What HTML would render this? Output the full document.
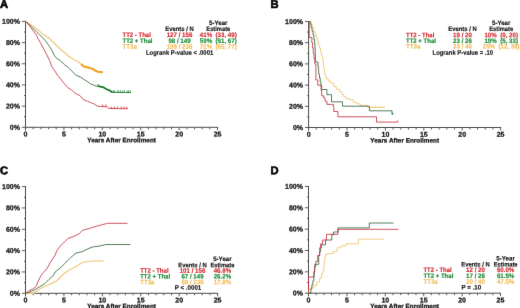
<!DOCTYPE html>
<html><head><meta charset="utf-8"><style>
html,body{margin:0;padding:0;background:#fff;width:520px;height:308px;overflow:hidden;}
svg{display:block;will-change:transform;}
text{font-family:"Liberation Sans", sans-serif;}
</style></head><body>
<svg width="520" height="308" viewBox="0 0 520 308" font-family='"Liberation Sans", sans-serif'>
<defs><filter id="soft" x="0" y="0" width="520" height="308" filterUnits="userSpaceOnUse" color-interpolation-filters="sRGB"><feConvolveMatrix order="3" kernelMatrix="0 1 0 1 12 1 0 1 0" edgeMode="duplicate" preserveAlpha="true"/></filter></defs>
<g filter="url(#soft)">
<rect width="520" height="308" fill="#fff"/>
<text x="-0.10" y="7.90" font-size="11.2" fill="#000" text-anchor="start" font-weight="bold" stroke="#000" stroke-width="0.6" transform="rotate(0.05 -0.10 7.90)">A</text>
<text x="270.60" y="7.90" font-size="11.2" fill="#000" text-anchor="start" font-weight="bold" stroke="#000" stroke-width="0.6" transform="rotate(0.05 270.60 7.90)">B</text>
<text x="-0.10" y="174.20" font-size="11.2" fill="#000" text-anchor="start" font-weight="bold" stroke="#000" stroke-width="0.6" transform="rotate(0.05 -0.10 174.20)">C</text>
<text x="270.60" y="174.20" font-size="11.2" fill="#000" text-anchor="start" font-weight="bold" stroke="#000" stroke-width="0.6" transform="rotate(0.05 270.60 174.20)">D</text>
<path d="M25.50,20.95 V130.50 M25.00,127.30 H218.10" stroke="#4a4a4a" stroke-width="1" fill="none"/>
<path d="M21.90,127.30 H25.50 M24.00,116.72 H25.50 M21.90,106.13 H25.50 M24.00,95.55 H25.50 M21.90,84.96 H25.50 M24.00,74.38 H25.50 M21.90,63.79 H25.50 M24.00,53.20 H25.50 M21.90,42.62 H25.50 M24.00,32.03 H25.50 M21.90,21.45 H25.50 M33.18,127.30 V129.30 M40.87,127.30 V129.30 M48.55,127.30 V129.30 M56.24,127.30 V129.30 M63.92,127.30 V130.30 M71.60,127.30 V129.30 M79.29,127.30 V129.30 M86.97,127.30 V129.30 M94.66,127.30 V129.30 M102.34,127.30 V130.30 M110.02,127.30 V129.30 M117.71,127.30 V129.30 M125.39,127.30 V129.30 M133.08,127.30 V129.30 M140.76,127.30 V130.30 M148.44,127.30 V129.30 M156.13,127.30 V129.30 M163.81,127.30 V129.30 M171.50,127.30 V129.30 M179.18,127.30 V130.30 M186.86,127.30 V129.30 M194.55,127.30 V129.30 M202.23,127.30 V129.30 M209.92,127.30 V129.30 M217.60,127.30 V130.30" stroke="#4a4a4a" stroke-width="0.9" fill="none"/>
<text x="19.90" y="129.70" font-size="7.0" fill="#111" text-anchor="end" font-weight="bold" stroke="#111" stroke-width="0.25" transform="rotate(0.05 19.90 129.70)">0%</text>
<text x="19.90" y="108.53" font-size="7.0" fill="#111" text-anchor="end" font-weight="bold" stroke="#111" stroke-width="0.25" transform="rotate(0.05 19.90 108.53)">20%</text>
<text x="19.90" y="87.36" font-size="7.0" fill="#111" text-anchor="end" font-weight="bold" stroke="#111" stroke-width="0.25" transform="rotate(0.05 19.90 87.36)">40%</text>
<text x="19.90" y="66.19" font-size="7.0" fill="#111" text-anchor="end" font-weight="bold" stroke="#111" stroke-width="0.25" transform="rotate(0.05 19.90 66.19)">60%</text>
<text x="19.90" y="45.02" font-size="7.0" fill="#111" text-anchor="end" font-weight="bold" stroke="#111" stroke-width="0.25" transform="rotate(0.05 19.90 45.02)">80%</text>
<text x="19.90" y="23.85" font-size="7.0" fill="#111" text-anchor="end" font-weight="bold" stroke="#111" stroke-width="0.25" transform="rotate(0.05 19.90 23.85)">100%</text>
<text x="25.50" y="136.60" font-size="7.0" fill="#111" text-anchor="middle" font-weight="bold" stroke="#111" stroke-width="0.25" transform="rotate(0.05 25.50 136.60)">0</text>
<text x="63.92" y="136.60" font-size="7.0" fill="#111" text-anchor="middle" font-weight="bold" stroke="#111" stroke-width="0.25" transform="rotate(0.05 63.92 136.60)">5</text>
<text x="102.34" y="136.60" font-size="7.0" fill="#111" text-anchor="middle" font-weight="bold" stroke="#111" stroke-width="0.25" transform="rotate(0.05 102.34 136.60)">10</text>
<text x="140.76" y="136.60" font-size="7.0" fill="#111" text-anchor="middle" font-weight="bold" stroke="#111" stroke-width="0.25" transform="rotate(0.05 140.76 136.60)">15</text>
<text x="179.18" y="136.60" font-size="7.0" fill="#111" text-anchor="middle" font-weight="bold" stroke="#111" stroke-width="0.25" transform="rotate(0.05 179.18 136.60)">20</text>
<text x="217.60" y="136.60" font-size="7.0" fill="#111" text-anchor="middle" font-weight="bold" stroke="#111" stroke-width="0.25" transform="rotate(0.05 217.60 136.60)">25</text>
<text x="121.60" y="142.30" font-size="6.4" fill="#111" text-anchor="middle" font-weight="bold" stroke="#111" stroke-width="0.25" transform="rotate(0.05 121.60 142.30)">Years After Enrollment</text>
<path d="M308.60,21.00 V130.70 M308.10,127.50 H501.10" stroke="#4a4a4a" stroke-width="1" fill="none"/>
<path d="M305.00,127.50 H308.60 M307.10,116.90 H308.60 M305.00,106.30 H308.60 M307.10,95.70 H308.60 M305.00,85.10 H308.60 M307.10,74.50 H308.60 M305.00,63.90 H308.60 M307.10,53.30 H308.60 M305.00,42.70 H308.60 M307.10,32.10 H308.60 M305.00,21.50 H308.60 M316.28,127.50 V129.50 M323.96,127.50 V129.50 M331.64,127.50 V129.50 M339.32,127.50 V129.50 M347.00,127.50 V130.50 M354.68,127.50 V129.50 M362.36,127.50 V129.50 M370.04,127.50 V129.50 M377.72,127.50 V129.50 M385.40,127.50 V130.50 M393.08,127.50 V129.50 M400.76,127.50 V129.50 M408.44,127.50 V129.50 M416.12,127.50 V129.50 M423.80,127.50 V130.50 M431.48,127.50 V129.50 M439.16,127.50 V129.50 M446.84,127.50 V129.50 M454.52,127.50 V129.50 M462.20,127.50 V130.50 M469.88,127.50 V129.50 M477.56,127.50 V129.50 M485.24,127.50 V129.50 M492.92,127.50 V129.50 M500.60,127.50 V130.50" stroke="#4a4a4a" stroke-width="0.9" fill="none"/>
<text x="303.00" y="129.90" font-size="7.0" fill="#111" text-anchor="end" font-weight="bold" stroke="#111" stroke-width="0.25" transform="rotate(0.05 303.00 129.90)">0%</text>
<text x="303.00" y="108.70" font-size="7.0" fill="#111" text-anchor="end" font-weight="bold" stroke="#111" stroke-width="0.25" transform="rotate(0.05 303.00 108.70)">20%</text>
<text x="303.00" y="87.50" font-size="7.0" fill="#111" text-anchor="end" font-weight="bold" stroke="#111" stroke-width="0.25" transform="rotate(0.05 303.00 87.50)">40%</text>
<text x="303.00" y="66.30" font-size="7.0" fill="#111" text-anchor="end" font-weight="bold" stroke="#111" stroke-width="0.25" transform="rotate(0.05 303.00 66.30)">60%</text>
<text x="303.00" y="45.10" font-size="7.0" fill="#111" text-anchor="end" font-weight="bold" stroke="#111" stroke-width="0.25" transform="rotate(0.05 303.00 45.10)">80%</text>
<text x="303.00" y="23.90" font-size="7.0" fill="#111" text-anchor="end" font-weight="bold" stroke="#111" stroke-width="0.25" transform="rotate(0.05 303.00 23.90)">100%</text>
<text x="308.60" y="136.80" font-size="7.0" fill="#111" text-anchor="middle" font-weight="bold" stroke="#111" stroke-width="0.25" transform="rotate(0.05 308.60 136.80)">0</text>
<text x="347.00" y="136.80" font-size="7.0" fill="#111" text-anchor="middle" font-weight="bold" stroke="#111" stroke-width="0.25" transform="rotate(0.05 347.00 136.80)">5</text>
<text x="385.40" y="136.80" font-size="7.0" fill="#111" text-anchor="middle" font-weight="bold" stroke="#111" stroke-width="0.25" transform="rotate(0.05 385.40 136.80)">10</text>
<text x="423.80" y="136.80" font-size="7.0" fill="#111" text-anchor="middle" font-weight="bold" stroke="#111" stroke-width="0.25" transform="rotate(0.05 423.80 136.80)">15</text>
<text x="462.20" y="136.80" font-size="7.0" fill="#111" text-anchor="middle" font-weight="bold" stroke="#111" stroke-width="0.25" transform="rotate(0.05 462.20 136.80)">20</text>
<text x="500.60" y="136.80" font-size="7.0" fill="#111" text-anchor="middle" font-weight="bold" stroke="#111" stroke-width="0.25" transform="rotate(0.05 500.60 136.80)">25</text>
<text x="404.70" y="142.50" font-size="6.4" fill="#111" text-anchor="middle" font-weight="bold" stroke="#111" stroke-width="0.25" transform="rotate(0.05 404.70 142.50)">Years After Enrollment</text>
<path d="M25.50,186.10 V296.50 M25.00,293.30 H218.10" stroke="#4a4a4a" stroke-width="1" fill="none"/>
<path d="M21.90,293.30 H25.50 M24.00,282.63 H25.50 M21.90,271.96 H25.50 M24.00,261.29 H25.50 M21.90,250.62 H25.50 M24.00,239.95 H25.50 M21.90,229.28 H25.50 M24.00,218.61 H25.50 M21.90,207.94 H25.50 M24.00,197.27 H25.50 M21.90,186.60 H25.50 M33.18,293.30 V295.30 M40.87,293.30 V295.30 M48.55,293.30 V295.30 M56.24,293.30 V295.30 M63.92,293.30 V296.30 M71.60,293.30 V295.30 M79.29,293.30 V295.30 M86.97,293.30 V295.30 M94.66,293.30 V295.30 M102.34,293.30 V296.30 M110.02,293.30 V295.30 M117.71,293.30 V295.30 M125.39,293.30 V295.30 M133.08,293.30 V295.30 M140.76,293.30 V296.30 M148.44,293.30 V295.30 M156.13,293.30 V295.30 M163.81,293.30 V295.30 M171.50,293.30 V295.30 M179.18,293.30 V296.30 M186.86,293.30 V295.30 M194.55,293.30 V295.30 M202.23,293.30 V295.30 M209.92,293.30 V295.30 M217.60,293.30 V296.30" stroke="#4a4a4a" stroke-width="0.9" fill="none"/>
<text x="19.90" y="295.70" font-size="7.0" fill="#111" text-anchor="end" font-weight="bold" stroke="#111" stroke-width="0.25" transform="rotate(0.05 19.90 295.70)">0%</text>
<text x="19.90" y="274.36" font-size="7.0" fill="#111" text-anchor="end" font-weight="bold" stroke="#111" stroke-width="0.25" transform="rotate(0.05 19.90 274.36)">20%</text>
<text x="19.90" y="253.02" font-size="7.0" fill="#111" text-anchor="end" font-weight="bold" stroke="#111" stroke-width="0.25" transform="rotate(0.05 19.90 253.02)">40%</text>
<text x="19.90" y="231.68" font-size="7.0" fill="#111" text-anchor="end" font-weight="bold" stroke="#111" stroke-width="0.25" transform="rotate(0.05 19.90 231.68)">60%</text>
<text x="19.90" y="210.34" font-size="7.0" fill="#111" text-anchor="end" font-weight="bold" stroke="#111" stroke-width="0.25" transform="rotate(0.05 19.90 210.34)">80%</text>
<text x="19.90" y="189.00" font-size="7.0" fill="#111" text-anchor="end" font-weight="bold" stroke="#111" stroke-width="0.25" transform="rotate(0.05 19.90 189.00)">100%</text>
<text x="25.50" y="302.60" font-size="7.0" fill="#111" text-anchor="middle" font-weight="bold" stroke="#111" stroke-width="0.25" transform="rotate(0.05 25.50 302.60)">0</text>
<text x="63.92" y="302.60" font-size="7.0" fill="#111" text-anchor="middle" font-weight="bold" stroke="#111" stroke-width="0.25" transform="rotate(0.05 63.92 302.60)">5</text>
<text x="102.34" y="302.60" font-size="7.0" fill="#111" text-anchor="middle" font-weight="bold" stroke="#111" stroke-width="0.25" transform="rotate(0.05 102.34 302.60)">10</text>
<text x="140.76" y="302.60" font-size="7.0" fill="#111" text-anchor="middle" font-weight="bold" stroke="#111" stroke-width="0.25" transform="rotate(0.05 140.76 302.60)">15</text>
<text x="179.18" y="302.60" font-size="7.0" fill="#111" text-anchor="middle" font-weight="bold" stroke="#111" stroke-width="0.25" transform="rotate(0.05 179.18 302.60)">20</text>
<text x="217.60" y="302.60" font-size="7.0" fill="#111" text-anchor="middle" font-weight="bold" stroke="#111" stroke-width="0.25" transform="rotate(0.05 217.60 302.60)">25</text>
<text x="121.60" y="308.30" font-size="6.4" fill="#111" text-anchor="middle" font-weight="bold" stroke="#111" stroke-width="0.25" transform="rotate(0.05 121.60 308.30)">Years After Enrollment</text>
<path d="M308.50,185.95 V296.40 M308.00,293.20 H501.00" stroke="#4a4a4a" stroke-width="1" fill="none"/>
<path d="M304.90,293.20 H308.50 M307.00,282.52 H308.50 M304.90,271.85 H308.50 M307.00,261.18 H308.50 M304.90,250.50 H308.50 M307.00,239.82 H308.50 M304.90,229.15 H308.50 M307.00,218.47 H308.50 M304.90,207.80 H308.50 M307.00,197.12 H308.50 M304.90,186.45 H308.50 M316.18,293.20 V295.20 M323.86,293.20 V295.20 M331.54,293.20 V295.20 M339.22,293.20 V295.20 M346.90,293.20 V296.20 M354.58,293.20 V295.20 M362.26,293.20 V295.20 M369.94,293.20 V295.20 M377.62,293.20 V295.20 M385.30,293.20 V296.20 M392.98,293.20 V295.20 M400.66,293.20 V295.20 M408.34,293.20 V295.20 M416.02,293.20 V295.20 M423.70,293.20 V296.20 M431.38,293.20 V295.20 M439.06,293.20 V295.20 M446.74,293.20 V295.20 M454.42,293.20 V295.20 M462.10,293.20 V296.20 M469.78,293.20 V295.20 M477.46,293.20 V295.20 M485.14,293.20 V295.20 M492.82,293.20 V295.20 M500.50,293.20 V296.20" stroke="#4a4a4a" stroke-width="0.9" fill="none"/>
<text x="302.90" y="295.60" font-size="7.0" fill="#111" text-anchor="end" font-weight="bold" stroke="#111" stroke-width="0.25" transform="rotate(0.05 302.90 295.60)">0%</text>
<text x="302.90" y="274.25" font-size="7.0" fill="#111" text-anchor="end" font-weight="bold" stroke="#111" stroke-width="0.25" transform="rotate(0.05 302.90 274.25)">20%</text>
<text x="302.90" y="252.90" font-size="7.0" fill="#111" text-anchor="end" font-weight="bold" stroke="#111" stroke-width="0.25" transform="rotate(0.05 302.90 252.90)">40%</text>
<text x="302.90" y="231.55" font-size="7.0" fill="#111" text-anchor="end" font-weight="bold" stroke="#111" stroke-width="0.25" transform="rotate(0.05 302.90 231.55)">60%</text>
<text x="302.90" y="210.20" font-size="7.0" fill="#111" text-anchor="end" font-weight="bold" stroke="#111" stroke-width="0.25" transform="rotate(0.05 302.90 210.20)">80%</text>
<text x="302.90" y="188.85" font-size="7.0" fill="#111" text-anchor="end" font-weight="bold" stroke="#111" stroke-width="0.25" transform="rotate(0.05 302.90 188.85)">100%</text>
<text x="308.50" y="302.50" font-size="7.0" fill="#111" text-anchor="middle" font-weight="bold" stroke="#111" stroke-width="0.25" transform="rotate(0.05 308.50 302.50)">0</text>
<text x="346.90" y="302.50" font-size="7.0" fill="#111" text-anchor="middle" font-weight="bold" stroke="#111" stroke-width="0.25" transform="rotate(0.05 346.90 302.50)">5</text>
<text x="385.30" y="302.50" font-size="7.0" fill="#111" text-anchor="middle" font-weight="bold" stroke="#111" stroke-width="0.25" transform="rotate(0.05 385.30 302.50)">10</text>
<text x="423.70" y="302.50" font-size="7.0" fill="#111" text-anchor="middle" font-weight="bold" stroke="#111" stroke-width="0.25" transform="rotate(0.05 423.70 302.50)">15</text>
<text x="462.10" y="302.50" font-size="7.0" fill="#111" text-anchor="middle" font-weight="bold" stroke="#111" stroke-width="0.25" transform="rotate(0.05 462.10 302.50)">20</text>
<text x="500.50" y="302.50" font-size="7.0" fill="#111" text-anchor="middle" font-weight="bold" stroke="#111" stroke-width="0.25" transform="rotate(0.05 500.50 302.50)">25</text>
<text x="404.60" y="308.20" font-size="6.4" fill="#111" text-anchor="middle" font-weight="bold" stroke="#111" stroke-width="0.25" transform="rotate(0.05 404.60 308.20)">Years After Enrollment</text>
<polyline points="25.50,21.40 33.70,26.80 38.50,30.50 43.50,34.60 48.30,37.50 53.20,42.30 57.30,46.20 60.50,49.50 64.40,52.50 69.20,56.80 74.10,59.70 79.00,62.20 81.20,64.30 83.80,66.40 89.00,67.70 92.90,69.00 95.50,70.80 98.00,71.80 102.80,72.20" stroke="#f0c878" stroke-width="1.2" fill="none" stroke-linejoin="round"/>
<polyline points="81.20,64.30 83.80,66.40 89.00,67.70 92.90,69.00 95.50,70.80 98.00,71.80 102.80,72.20" stroke="#f0a428" stroke-width="2.2" fill="none" stroke-linejoin="round"/>
<polyline points="25.50,21.40 30.20,25.50 34.10,29.40 38.00,33.20 41.90,37.10 45.00,40.30 47.40,43.40 49.50,46.50 51.70,50.00 54.60,55.80 56.60,58.30 60.50,60.70 64.40,64.60 68.30,67.50 72.20,71.40 76.10,75.30 80.90,77.30 83.90,79.40 87.80,81.80 90.50,83.80 93.10,84.80 95.70,86.10 98.00,86.10 102.90,87.10 106.10,89.00 109.40,90.30 112.50,92.50 131.00,92.60" stroke="#2a6030" stroke-width="0.8" fill="none" stroke-linejoin="round"/>
<polyline points="98.00,86.10 102.90,87.10 106.10,89.00 109.40,90.30 112.50,92.50" stroke="#1e7a2a" stroke-width="1.8" fill="none" stroke-linejoin="round"/>
<path d="M98.00,86.10 v-2.2" stroke="#1a8a35" stroke-width="0.8" fill="none"/>
<path d="M113.50,92.60 v-2.2 M114.70,92.60 v-2.2 M117.40,92.60 v-2.2 M118.80,92.60 v-2.2 M120.50,92.60 v-2.2 M122.70,92.60 v-2.2 M124.20,92.60 v-2.2 M127.10,92.60 v-2.2 M128.50,92.60 v-2.2 M130.20,92.60 v-2.2" stroke="#1a8a35" stroke-width="0.8" fill="none"/>
<polyline points="25.50,21.40 26.00,21.80 30.20,26.60 34.10,32.10 36.50,35.20 38.00,38.70 40.80,43.40 42.00,46.00 44.40,50.00 46.80,54.90 49.70,60.70 51.70,66.60 54.60,70.50 57.50,75.30 61.00,79.20 63.60,82.80 67.80,87.60 71.50,90.00 75.30,93.30 80.00,95.60 82.80,99.30 87.50,101.30 91.60,103.00 94.50,104.20 97.50,106.20 100.40,106.50 105.90,106.70 107.40,107.10 109.10,108.50 127.80,108.80" stroke="#c42838" stroke-width="0.8" fill="none" stroke-linejoin="round"/>
<path d="M102.70,106.70 v-2.2 M105.90,106.70 v-2.2" stroke="#d42830" stroke-width="0.8" fill="none"/>
<path d="M111.20,108.80 v-2.2 M114.40,108.80 v-2.2 M117.30,108.80 v-2.2 M121.20,108.80 v-2.2 M124.10,108.80 v-2.2 M126.80,108.80 v-2.2" stroke="#d42830" stroke-width="0.8" fill="none"/>
<polyline points="308.60,21.50 311.20,21.50 311.20,23.90 312.10,23.90 312.10,26.32 313.00,26.32 313.00,28.75 313.90,28.75 313.90,31.18 314.80,31.18 314.80,33.60 315.77,33.60 315.77,36.20 316.73,36.20 316.73,38.80 317.70,38.80 317.70,41.40 318.33,41.40 318.33,43.67 318.97,43.67 318.97,45.93 319.60,45.93 319.60,48.20 320.50,48.20 320.50,51.00 321.12,51.00 321.12,53.62 321.75,53.62 321.75,56.25 322.38,56.25 322.38,58.88 323.00,58.88 323.00,61.50 323.34,61.50 323.34,64.14 323.68,64.14 323.68,66.78 324.02,66.78 324.02,69.42 324.36,69.42 324.36,72.06 324.70,72.06 324.70,74.70 325.55,74.70 325.55,76.85 326.40,76.85 326.40,79.00 328.45,79.00 328.45,81.10 330.50,81.10 330.50,83.20 333.80,83.20 333.80,86.50 336.30,86.50 336.30,89.20 339.60,89.20 339.60,91.80 342.00,91.80 342.00,94.50 343.70,94.50 343.70,96.50 345.40,96.50 345.40,98.50 349.50,98.50 349.50,99.80 353.70,99.80 353.70,102.50 357.00,102.50 357.00,103.90 360.30,103.90 360.30,105.50 367.70,105.50 367.70,107.50 383.50,107.50" stroke="#f0c878" stroke-width="0.9" fill="none" stroke-linejoin="round"/>
<polyline points="308.60,21.50 309.90,21.50 310.20,21.50 310.20,24.00 311.13,24.00 311.13,27.67 312.07,27.67 312.07,31.33 313.00,31.33 313.00,35.00 313.80,35.00 313.80,39.50 314.60,39.50 314.60,44.00 314.90,44.00 314.90,48.00 315.20,48.00 315.20,52.00 315.30,52.00 315.30,57.00 315.40,57.00 315.40,62.00 317.70,62.00 318.03,62.00 318.03,66.00 318.37,66.00 318.37,70.00 318.70,70.00 318.70,74.00 319.45,74.00 319.45,77.88 320.20,77.88 320.20,81.75 320.95,81.75 320.95,85.62 321.70,85.62 321.70,89.50 326.90,89.50 326.90,94.70 331.50,94.70 331.50,101.80 342.50,101.80 342.50,106.20 369.40,106.20 369.40,110.80 392.00,110.80 392.00,113.50" stroke="#2a6030" stroke-width="0.8" fill="none" stroke-linejoin="round"/>
<polyline points="308.60,21.50 309.20,21.50 309.20,37.40 311.80,37.40 311.80,42.70 312.55,42.70 312.55,48.03 313.30,48.03 313.30,53.35 314.05,53.35 314.05,58.67 314.80,58.67 314.80,64.00 315.90,64.00 315.90,69.30 315.90,79.90 317.80,79.90 317.80,85.20 320.40,85.20 321.05,85.20 321.05,90.50 321.70,90.50 321.70,95.80 323.70,95.80 323.70,97.90 325.00,97.90 325.00,101.20 326.90,101.20 326.90,104.40 331.50,104.40 333.40,104.40 333.40,106.20 333.80,106.20 333.80,111.50 337.90,111.50 337.90,116.80 376.50,116.80 376.50,122.10 397.90,122.10 397.90,120.50" stroke="#c42838" stroke-width="0.8" fill="none" stroke-linejoin="round"/>
<path d="M370.00,108.00 v-1.8 M372.80,108.00 v-1.8 M375.60,108.00 v-1.8 M378.40,108.00 v-1.8 M381.20,108.00 v-1.8 M384.00,108.00 v-1.8" stroke="#f2bc58" stroke-width="0.7" fill="none"/>
<circle cx="392.4" cy="113.8" r="1.0" fill="#1a8a35"/>
<polyline points="25.50,293.30 33.70,293.30 37.00,290.70 43.50,286.80 50.00,284.20 56.50,281.00 64.00,273.80 68.80,270.20 75.80,266.70 81.50,263.00 86.10,261.50 93.10,261.00 103.40,260.80" stroke="#f0c878" stroke-width="1.2" fill="none" stroke-linejoin="round"/>
<polyline points="25.50,293.30 27.90,292.70 34.40,290.00 39.60,286.80 44.80,283.60 48.70,279.70 52.60,276.40 55.20,271.90 57.80,269.90 61.70,266.70 64.60,263.70 71.10,257.20 76.00,253.10 82.50,251.50 89.00,248.30 93.80,246.70 98.80,246.20 106.10,244.50 130.40,244.50" stroke="#2a6030" stroke-width="0.8" fill="none" stroke-linejoin="round"/>
<polyline points="25.50,293.30 29.20,290.70 33.10,288.80 36.30,286.20 38.30,281.00 40.90,275.80 43.50,272.50 47.40,268.00 50.00,262.80 52.60,258.90 55.20,255.00 56.80,250.70 60.00,246.50 63.00,243.40 67.90,238.50 74.40,236.10 79.20,233.70 82.50,230.40 90.60,228.00 98.70,225.60 107.60,223.30 127.50,223.30" stroke="#c42838" stroke-width="0.8" fill="none" stroke-linejoin="round"/>
<polyline points="308.50,293.20 308.50,289.70 310.90,289.70 310.90,287.70 313.80,287.70 313.80,285.80 316.70,285.80 316.70,281.90 319.70,281.90 319.70,278.00 321.60,278.00 321.60,274.00 322.60,274.00 322.60,271.60 323.60,271.60 323.60,269.20 323.83,269.20 323.83,266.75 324.05,266.75 324.05,264.30 324.27,264.30 324.27,261.85 324.50,261.85 324.50,259.40 325.00,259.40 325.00,256.95 325.50,256.95 325.50,254.50 327.50,254.50 327.50,253.60 333.30,253.60 333.30,251.60 337.20,251.60 337.20,247.70 341.10,247.70 341.10,245.80 346.00,245.80 346.00,243.80 358.60,243.80 358.60,240.00 358.60,239.20 384.00,239.20" stroke="#f0c878" stroke-width="0.9" fill="none" stroke-linejoin="round"/>
<polyline points="308.50,293.20 310.90,293.20 310.90,288.70 311.87,288.70 311.87,284.80 312.83,284.80 312.83,280.90 313.80,280.90 313.80,277.00 314.13,277.00 314.13,272.77 314.47,272.77 314.47,268.53 314.80,268.53 314.80,264.30 318.70,264.30 318.70,255.50 319.65,255.50 319.65,251.60 320.60,251.60 320.60,247.70 321.60,247.70 321.60,244.80 325.50,244.80 325.50,240.00 331.80,240.00 331.80,234.60 333.60,234.60 333.60,232.00 338.00,232.00 338.00,227.90 369.30,227.90 369.30,223.00 393.50,223.00" stroke="#2a6030" stroke-width="0.8" fill="none" stroke-linejoin="round"/>
<polyline points="308.50,293.20 308.50,277.00 312.80,277.00 313.80,277.00 313.80,271.80 314.80,271.80 314.80,266.60 315.80,266.60 315.80,261.40 317.70,261.40 317.70,255.50 319.70,255.50 319.70,247.70 320.60,247.70 320.60,243.80 322.60,243.80 322.60,240.00 326.40,240.00 326.40,234.30 338.00,234.30 338.00,229.30 398.30,229.30" stroke="#c42838" stroke-width="0.8" fill="none" stroke-linejoin="round"/>
<text x="218.30" y="25.10" font-size="6.6" fill="#111" text-anchor="middle" font-weight="bold" textLength="18.46" lengthAdjust="spacingAndGlyphs" stroke="#111" stroke-width="0.15" transform="rotate(0.05 218.30 25.10)">5-Year</text>
<text x="179.50" y="31.00" font-size="6.6" fill="#111" text-anchor="middle" font-weight="bold" textLength="28.37" lengthAdjust="spacingAndGlyphs" stroke="#111" stroke-width="0.15" transform="rotate(0.05 179.50 31.00)">Events / N</text>
<text x="218.30" y="31.00" font-size="6.6" fill="#111" text-anchor="middle" font-weight="bold" textLength="23.92" lengthAdjust="spacingAndGlyphs" stroke="#111" stroke-width="0.15" transform="rotate(0.05 218.30 31.00)">Estimate</text>
<text x="122.50" y="37.10" font-size="6.6" fill="#d42830" text-anchor="start" font-weight="bold" textLength="28.36" lengthAdjust="spacingAndGlyphs" stroke="#d42830" stroke-width="0.15" transform="rotate(0.05 122.50 37.10)">TT2 - Thal</text>
<text x="179.50" y="37.10" font-size="6.6" fill="#d42830" text-anchor="middle" font-weight="bold" textLength="25.65" lengthAdjust="spacingAndGlyphs" stroke="#d42830" stroke-width="0.15" transform="rotate(0.05 179.50 37.10)">127 / 156</text>
<text x="218.30" y="37.10" font-size="6.6" fill="#d42830" text-anchor="middle" font-weight="bold" textLength="36.92" lengthAdjust="spacingAndGlyphs" stroke="#d42830" stroke-width="0.15" transform="rotate(0.05 218.30 37.10)">41%&#160;&#160;(33, 49)</text>
<text x="122.50" y="42.90" font-size="6.6" fill="#1a8a35" text-anchor="start" font-weight="bold" textLength="29.91" lengthAdjust="spacingAndGlyphs" stroke="#1a8a35" stroke-width="0.15" transform="rotate(0.05 122.50 42.90)">TT2 + Thal</text>
<text x="179.50" y="42.90" font-size="6.6" fill="#1a8a35" text-anchor="middle" font-weight="bold" textLength="22.23" lengthAdjust="spacingAndGlyphs" stroke="#1a8a35" stroke-width="0.15" transform="rotate(0.05 179.50 42.90)">98 / 149</text>
<text x="218.30" y="42.90" font-size="6.6" fill="#1a8a35" text-anchor="middle" font-weight="bold" textLength="36.92" lengthAdjust="spacingAndGlyphs" stroke="#1a8a35" stroke-width="0.15" transform="rotate(0.05 218.30 42.90)">59%&#160;&#160;(51, 67)</text>
<text x="122.50" y="48.80" font-size="6.6" fill="#f2bc58" text-anchor="start" font-weight="bold" textLength="14.35" lengthAdjust="spacingAndGlyphs" stroke="#f2bc58" stroke-width="0.15" transform="rotate(0.05 122.50 48.80)">TT3a</text>
<text x="179.50" y="48.80" font-size="6.6" fill="#f2bc58" text-anchor="middle" font-weight="bold" textLength="25.65" lengthAdjust="spacingAndGlyphs" stroke="#f2bc58" stroke-width="0.15" transform="rotate(0.05 179.50 48.80)">109 / 236</text>
<text x="218.30" y="48.80" font-size="6.6" fill="#f2bc58" text-anchor="middle" font-weight="bold" textLength="36.92" lengthAdjust="spacingAndGlyphs" stroke="#f2bc58" stroke-width="0.15" transform="rotate(0.05 218.30 48.80)">71%&#160;&#160;(65, 77)</text>
<text x="146.00" y="54.70" font-size="6.6" fill="#111" text-anchor="start" font-weight="bold" textLength="67.18" lengthAdjust="spacingAndGlyphs" stroke="#111" stroke-width="0.15" transform="rotate(0.05 146.00 54.70)">Logrank P-value &lt; .0001</text>
<text x="501.20" y="25.10" font-size="6.6" fill="#111" text-anchor="middle" font-weight="bold" textLength="18.46" lengthAdjust="spacingAndGlyphs" stroke="#111" stroke-width="0.15" transform="rotate(0.05 501.20 25.10)">5-Year</text>
<text x="462.50" y="31.00" font-size="6.6" fill="#111" text-anchor="middle" font-weight="bold" textLength="28.37" lengthAdjust="spacingAndGlyphs" stroke="#111" stroke-width="0.15" transform="rotate(0.05 462.50 31.00)">Events / N</text>
<text x="501.20" y="31.00" font-size="6.6" fill="#111" text-anchor="middle" font-weight="bold" textLength="23.92" lengthAdjust="spacingAndGlyphs" stroke="#111" stroke-width="0.15" transform="rotate(0.05 501.20 31.00)">Estimate</text>
<text x="406.00" y="37.20" font-size="6.6" fill="#d42830" text-anchor="start" font-weight="bold" textLength="28.36" lengthAdjust="spacingAndGlyphs" stroke="#d42830" stroke-width="0.15" transform="rotate(0.05 406.00 37.20)">TT2 - Thal</text>
<text x="462.50" y="37.20" font-size="6.6" fill="#d42830" text-anchor="middle" font-weight="bold" textLength="18.81" lengthAdjust="spacingAndGlyphs" stroke="#d42830" stroke-width="0.15" transform="rotate(0.05 462.50 37.20)">19 / 20</text>
<text x="501.20" y="37.20" font-size="6.6" fill="#d42830" text-anchor="middle" font-weight="bold" textLength="33.50" lengthAdjust="spacingAndGlyphs" stroke="#d42830" stroke-width="0.15" transform="rotate(0.05 501.20 37.20)">10%&#160;&#160;(0, 20)</text>
<text x="406.00" y="42.90" font-size="6.6" fill="#1a8a35" text-anchor="start" font-weight="bold" textLength="29.91" lengthAdjust="spacingAndGlyphs" stroke="#1a8a35" stroke-width="0.15" transform="rotate(0.05 406.00 42.90)">TT2 + Thal</text>
<text x="462.50" y="42.90" font-size="6.6" fill="#1a8a35" text-anchor="middle" font-weight="bold" textLength="18.81" lengthAdjust="spacingAndGlyphs" stroke="#1a8a35" stroke-width="0.15" transform="rotate(0.05 462.50 42.90)">23 / 26</text>
<text x="501.20" y="42.90" font-size="6.6" fill="#1a8a35" text-anchor="middle" font-weight="bold" textLength="33.50" lengthAdjust="spacingAndGlyphs" stroke="#1a8a35" stroke-width="0.15" transform="rotate(0.05 501.20 42.90)">19%&#160;&#160;(5, 33)</text>
<text x="406.00" y="48.60" font-size="6.6" fill="#f2bc58" text-anchor="start" font-weight="bold" textLength="14.35" lengthAdjust="spacingAndGlyphs" stroke="#f2bc58" stroke-width="0.15" transform="rotate(0.05 406.00 48.60)">TT3a</text>
<text x="462.50" y="48.60" font-size="6.6" fill="#f2bc58" text-anchor="middle" font-weight="bold" textLength="18.81" lengthAdjust="spacingAndGlyphs" stroke="#f2bc58" stroke-width="0.15" transform="rotate(0.05 462.50 48.60)">33 / 40</text>
<text x="501.20" y="48.60" font-size="6.6" fill="#f2bc58" text-anchor="middle" font-weight="bold" textLength="36.92" lengthAdjust="spacingAndGlyphs" stroke="#f2bc58" stroke-width="0.15" transform="rotate(0.05 501.20 48.60)">25%&#160;&#160;(12, 38)</text>
<text x="432.60" y="54.70" font-size="6.6" fill="#111" text-anchor="start" font-weight="bold" textLength="60.34" lengthAdjust="spacingAndGlyphs" stroke="#111" stroke-width="0.15" transform="rotate(0.05 432.60 54.70)">Logrank P-value = .10</text>
<text x="222.40" y="260.90" font-size="6.6" fill="#111" text-anchor="middle" font-weight="bold" textLength="18.46" lengthAdjust="spacingAndGlyphs" stroke="#111" stroke-width="0.15" transform="rotate(0.05 222.40 260.90)">5-Year</text>
<text x="192.50" y="267.20" font-size="6.6" fill="#111" text-anchor="middle" font-weight="bold" textLength="28.37" lengthAdjust="spacingAndGlyphs" stroke="#111" stroke-width="0.15" transform="rotate(0.05 192.50 267.20)">Events / N</text>
<text x="222.40" y="267.20" font-size="6.6" fill="#111" text-anchor="middle" font-weight="bold" textLength="23.92" lengthAdjust="spacingAndGlyphs" stroke="#111" stroke-width="0.15" transform="rotate(0.05 222.40 267.20)">Estimate</text>
<text x="140.20" y="272.80" font-size="6.6" fill="#d42830" text-anchor="start" font-weight="bold" textLength="28.36" lengthAdjust="spacingAndGlyphs" stroke="#d42830" stroke-width="0.15" transform="rotate(0.05 140.20 272.80)">TT2 - Thal</text>
<text x="192.50" y="272.80" font-size="6.6" fill="#d42830" text-anchor="middle" font-weight="bold" textLength="25.65" lengthAdjust="spacingAndGlyphs" stroke="#d42830" stroke-width="0.15" transform="rotate(0.05 192.50 272.80)">101 / 156</text>
<text x="222.40" y="272.80" font-size="6.6" fill="#d42830" text-anchor="middle" font-weight="bold" textLength="17.44" lengthAdjust="spacingAndGlyphs" stroke="#d42830" stroke-width="0.15" transform="rotate(0.05 222.40 272.80)">46.8%</text>
<text x="140.20" y="278.40" font-size="6.6" fill="#1a8a35" text-anchor="start" font-weight="bold" textLength="29.91" lengthAdjust="spacingAndGlyphs" stroke="#1a8a35" stroke-width="0.15" transform="rotate(0.05 140.20 278.40)">TT2 + Thal</text>
<text x="192.50" y="278.40" font-size="6.6" fill="#1a8a35" text-anchor="middle" font-weight="bold" textLength="22.23" lengthAdjust="spacingAndGlyphs" stroke="#1a8a35" stroke-width="0.15" transform="rotate(0.05 192.50 278.40)">67 / 149</text>
<text x="222.40" y="278.40" font-size="6.6" fill="#1a8a35" text-anchor="middle" font-weight="bold" textLength="17.44" lengthAdjust="spacingAndGlyphs" stroke="#1a8a35" stroke-width="0.15" transform="rotate(0.05 222.40 278.40)">26.2%</text>
<text x="140.20" y="284.20" font-size="6.6" fill="#f2bc58" text-anchor="start" font-weight="bold" textLength="14.35" lengthAdjust="spacingAndGlyphs" stroke="#f2bc58" stroke-width="0.15" transform="rotate(0.05 140.20 284.20)">TT3a</text>
<text x="192.50" y="284.20" font-size="6.6" fill="#f2bc58" text-anchor="middle" font-weight="bold" textLength="22.23" lengthAdjust="spacingAndGlyphs" stroke="#f2bc58" stroke-width="0.15" transform="rotate(0.05 192.50 284.20)">69 / 236</text>
<text x="222.40" y="284.20" font-size="6.6" fill="#f2bc58" text-anchor="middle" font-weight="bold" textLength="17.44" lengthAdjust="spacingAndGlyphs" stroke="#f2bc58" stroke-width="0.15" transform="rotate(0.05 222.40 284.20)">17.8%</text>
<text x="174.80" y="289.80" font-size="6.6" fill="#111" text-anchor="start" font-weight="bold" textLength="26.50" lengthAdjust="spacingAndGlyphs" stroke="#111" stroke-width="0.15" transform="rotate(0.05 174.80 289.80)">P &lt; .0001</text>
<text x="505.60" y="260.50" font-size="6.6" fill="#111" text-anchor="middle" font-weight="bold" textLength="18.46" lengthAdjust="spacingAndGlyphs" stroke="#111" stroke-width="0.15" transform="rotate(0.05 505.60 260.50)">5-Year</text>
<text x="475.50" y="266.40" font-size="6.6" fill="#111" text-anchor="middle" font-weight="bold" textLength="28.37" lengthAdjust="spacingAndGlyphs" stroke="#111" stroke-width="0.15" transform="rotate(0.05 475.50 266.40)">Events / N</text>
<text x="505.60" y="266.40" font-size="6.6" fill="#111" text-anchor="middle" font-weight="bold" textLength="23.92" lengthAdjust="spacingAndGlyphs" stroke="#111" stroke-width="0.15" transform="rotate(0.05 505.60 266.40)">Estimate</text>
<text x="423.40" y="272.10" font-size="6.6" fill="#d42830" text-anchor="start" font-weight="bold" textLength="28.36" lengthAdjust="spacingAndGlyphs" stroke="#d42830" stroke-width="0.15" transform="rotate(0.05 423.40 272.10)">TT2 - Thal</text>
<text x="475.50" y="272.10" font-size="6.6" fill="#d42830" text-anchor="middle" font-weight="bold" textLength="18.81" lengthAdjust="spacingAndGlyphs" stroke="#d42830" stroke-width="0.15" transform="rotate(0.05 475.50 272.10)">12 / 20</text>
<text x="505.60" y="272.10" font-size="6.6" fill="#d42830" text-anchor="middle" font-weight="bold" textLength="17.44" lengthAdjust="spacingAndGlyphs" stroke="#d42830" stroke-width="0.15" transform="rotate(0.05 505.60 272.10)">60.0%</text>
<text x="423.40" y="277.90" font-size="6.6" fill="#1a8a35" text-anchor="start" font-weight="bold" textLength="29.91" lengthAdjust="spacingAndGlyphs" stroke="#1a8a35" stroke-width="0.15" transform="rotate(0.05 423.40 277.90)">TT2 + Thal</text>
<text x="475.50" y="277.90" font-size="6.6" fill="#1a8a35" text-anchor="middle" font-weight="bold" textLength="18.81" lengthAdjust="spacingAndGlyphs" stroke="#1a8a35" stroke-width="0.15" transform="rotate(0.05 475.50 277.90)">17 / 26</text>
<text x="505.60" y="277.90" font-size="6.6" fill="#1a8a35" text-anchor="middle" font-weight="bold" textLength="17.44" lengthAdjust="spacingAndGlyphs" stroke="#1a8a35" stroke-width="0.15" transform="rotate(0.05 505.60 277.90)">61.5%</text>
<text x="423.40" y="283.80" font-size="6.6" fill="#f2bc58" text-anchor="start" font-weight="bold" textLength="14.35" lengthAdjust="spacingAndGlyphs" stroke="#f2bc58" stroke-width="0.15" transform="rotate(0.05 423.40 283.80)">TT3a</text>
<text x="475.50" y="283.80" font-size="6.6" fill="#f2bc58" text-anchor="middle" font-weight="bold" textLength="18.81" lengthAdjust="spacingAndGlyphs" stroke="#f2bc58" stroke-width="0.15" transform="rotate(0.05 475.50 283.80)">20 / 40</text>
<text x="505.60" y="283.80" font-size="6.6" fill="#f2bc58" text-anchor="middle" font-weight="bold" textLength="17.44" lengthAdjust="spacingAndGlyphs" stroke="#f2bc58" stroke-width="0.15" transform="rotate(0.05 505.60 283.80)">47.5%</text>
<text x="461.60" y="289.40" font-size="6.6" fill="#111" text-anchor="start" font-weight="bold" textLength="19.66" lengthAdjust="spacingAndGlyphs" stroke="#111" stroke-width="0.15" transform="rotate(0.05 461.60 289.40)">P = .10</text>
</g>
</svg>
</body></html>
